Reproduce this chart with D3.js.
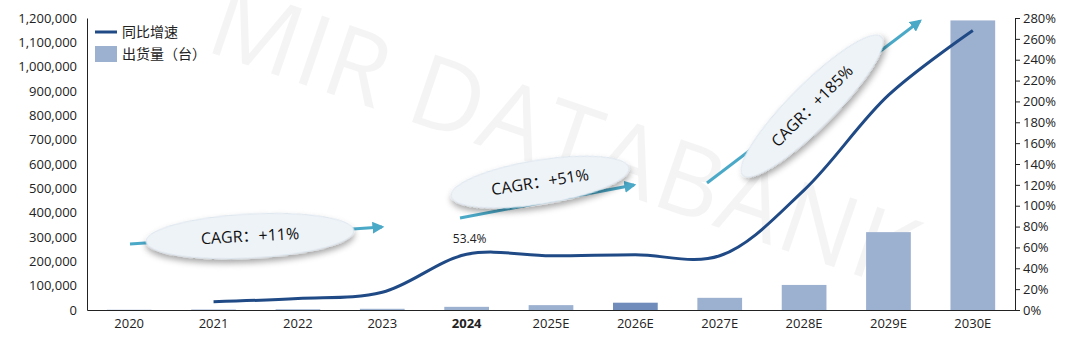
<!DOCTYPE html>
<html>
<head>
<meta charset="utf-8">
<script src="https://cdn.jsdelivr.net/npm/d3@7"></script>
<style>
  body { margin: 0; background: #fff; }
  svg { display: block; font-family: "Open Sans", "Noto Sans CJK SC", sans-serif; }
</style>
</head>
<body>
<div class="chart"></div>
<script>
// data
const years = ["2020", "2021", "2022", "2023", "2024", "2025E", "2026E", "2027E", "2028E", "2029E", "2030E"];
const shipments = [1000, 2000, 3000, 5000, 13000, 20000, 30000, 50000, 103000, 320000, 1190000];
const growth = [null, 8, 11, 17, 53.4, 52, 53, 52, 115, 206, 268];
const leftTicks = d3.range(0, 1200001, 100000);
const rightTicks = d3.range(0, 281, 20);
const cagrLabels = ["CAGR：+11%", "CAGR：+51%", "CAGR：+185%"];

const W = 1080, H = 343;
const margin = { top: 18, right: 65, bottom: 33, left: 87 };
const width = W - margin.left - margin.right;
const height = H - margin.top - margin.bottom;

const svg = d3.select(".chart").append("svg")
    .attr("width", W)
    .attr("height", H);

const defs = svg.append("defs");
const shadow = defs.append("filter").attr("id", "shadow")
    .attr("x", "-20%").attr("y", "-50%").attr("width", "140%").attr("height", "220%");
shadow.append("feDropShadow")
    .attr("dx", 0).attr("dy", 4).attr("stdDeviation", 3)
    .attr("flood-color", "#000").attr("flood-opacity", 0.35);
const arrowHead = defs.append("marker").attr("id", "arrow")
    .attr("viewBox", "0 0 10 10").attr("refX", 8).attr("refY", 5)
    .attr("markerWidth", 4).attr("markerHeight", 4).attr("orient", "auto");
arrowHead.append("path").attr("d", "M0,0L10,5L0,10z").attr("fill", "#4ba9c8");

// watermark
svg.append("text")
    .attr("transform", "translate(203,50) rotate(19)")
    .attr("font-size", 100)
    .attr("font-family", "Open Sans, sans-serif")
    .attr("textLength", 740)
    .attr("lengthAdjust", "spacing")
    .attr("fill", "#000")
    .attr("fill-opacity", 0.045)
    .text("MIR DATABANK");

const g = svg.append("g").attr("transform", `translate(${margin.left},${margin.top})`);

const x = d3.scaleBand().domain(years).range([0, width]).paddingInner(0.47).paddingOuter(0.235);
const yL = d3.scaleLinear().domain([0, 1200000]).range([height, 0]);
const yR = d3.scaleLinear().domain([0, 280]).range([height, 0]);

// bars
g.selectAll(".bar")
    .data(years)
    .join("rect")
    .attr("class", "bar")
    .attr("x", d => x(d))
    .attr("width", x.bandwidth())
    .attr("y", (d, i) => yL(shipments[i]))
    .attr("height", (d, i) => height - yL(shipments[i]))
    .attr("fill", d => d === "2026E" ? "#6f8cba" : "#9cb0d0");

// left axis
const leftAxis = g.append("g")
    .call(d3.axisLeft(yL).tickValues(leftTicks).tickSize(0).tickPadding(10).tickFormat(d3.format(",")));
leftAxis.select(".domain").attr("stroke", "#222");
leftAxis.selectAll("text").attr("font-size", 13).attr("fill", "#222").attr("font-family", "Open Sans, sans-serif");

// right axis
const rightAxis = g.append("g")
    .attr("transform", `translate(${width},0)`)
    .call(d3.axisRight(yR).tickValues(rightTicks).tickSize(5).tickPadding(3).tickFormat(d => d + "%"));
rightAxis.select(".domain").attr("stroke", "#222");
rightAxis.selectAll("line").attr("stroke", "#222");
rightAxis.selectAll("text").attr("font-size", 13).attr("fill", "#222").attr("font-family", "Open Sans, sans-serif");

// x axis
const xAxis = g.append("g")
    .attr("transform", `translate(0,${height})`)
    .call(d3.axisBottom(x).tickSize(0).tickPadding(9));
xAxis.select(".domain").attr("stroke", "#222");
xAxis.selectAll("text")
    .attr("font-size", 13).attr("fill", "#222").attr("font-family", "Open Sans, sans-serif")
    .attr("font-weight", d => d === "2024" ? "bold" : "normal");

// growth line
const lineData = years.map((d, i) => ({ year: d, v: growth[i] })).filter(d => d.v !== null);
const line = d3.line()
    .x(d => x(d.year) + x.bandwidth() / 2)
    .y(d => yR(d.v))
    .curve(d3.curveCatmullRom.alpha(0.5));
g.append("path")
    .datum(lineData)
    .attr("fill", "none")
    .attr("stroke", "#1f4a85")
    .attr("stroke-width", 3)
    .attr("d", line);

g.append("text")
    .attr("x", x("2024") + x.bandwidth() / 2 + 3)
    .attr("y", yR(53.4) - 11)
    .attr("text-anchor", "middle")
    .attr("font-size", 12)
    .attr("fill", "#222")
    .text("53.4%");

// CAGR bubbles: arrow, ellipse centre, radii, angle
const bubbles = [
    { a: [130, 244, 382, 227], c: [250, 236], r: [104, 22], ang: -3 },
    { a: [460, 218, 634, 185], c: [540, 182], r: [90, 22], ang: -9 },
    { a: [707, 183, 920, 21], c: [812, 106], r: [98, 22], ang: -45 }
];
bubbles.forEach((b, i) => {
    svg.append("line")
        .attr("x1", b.a[0]).attr("y1", b.a[1]).attr("x2", b.a[2]).attr("y2", b.a[3])
        .attr("stroke", "#4ba9c8").attr("stroke-width", 3)
        .attr("marker-end", "url(#arrow)");
    const bg = svg.append("g").attr("transform", `translate(${b.c[0]},${b.c[1]}) rotate(${b.ang})`);
    bg.append("ellipse")
        .attr("rx", b.r[0]).attr("ry", b.r[1])
        .attr("fill", "#eef3f8")
        .attr("stroke", "#dde6ee")
        .attr("filter", "url(#shadow)");
    bg.append("text")
        .attr("text-anchor", "middle")
        .attr("dy", "0.35em")
        .attr("font-size", 16)
        .attr("fill", "#111")
        .attr("font-family", "Open Sans, Noto Sans CJK SC, sans-serif")
        .text(cagrLabels[i]);
});

// legend
const legend = svg.append("g").attr("transform", "translate(95,32)");
legend.append("line").attr("x1", 0).attr("x2", 22).attr("y1", 0).attr("y2", 0)
    .attr("stroke", "#1f4a85").attr("stroke-width", 3);
legend.append("text").attr("x", 27).attr("y", 0).attr("dy", "0.35em")
    .attr("font-size", 14).attr("fill", "#222").attr("font-family", "Noto Sans CJK SC, sans-serif")
    .text("同比增速");
legend.append("rect").attr("x", 0).attr("y", 14).attr("width", 22).attr("height", 16).attr("fill", "#9cb0d0");
legend.append("text").attr("x", 27).attr("y", 22).attr("dy", "0.35em")
    .attr("font-size", 14).attr("fill", "#222").attr("font-family", "Noto Sans CJK SC, sans-serif")
    .text("出货量（台）");
</script>
</body>
</html>
